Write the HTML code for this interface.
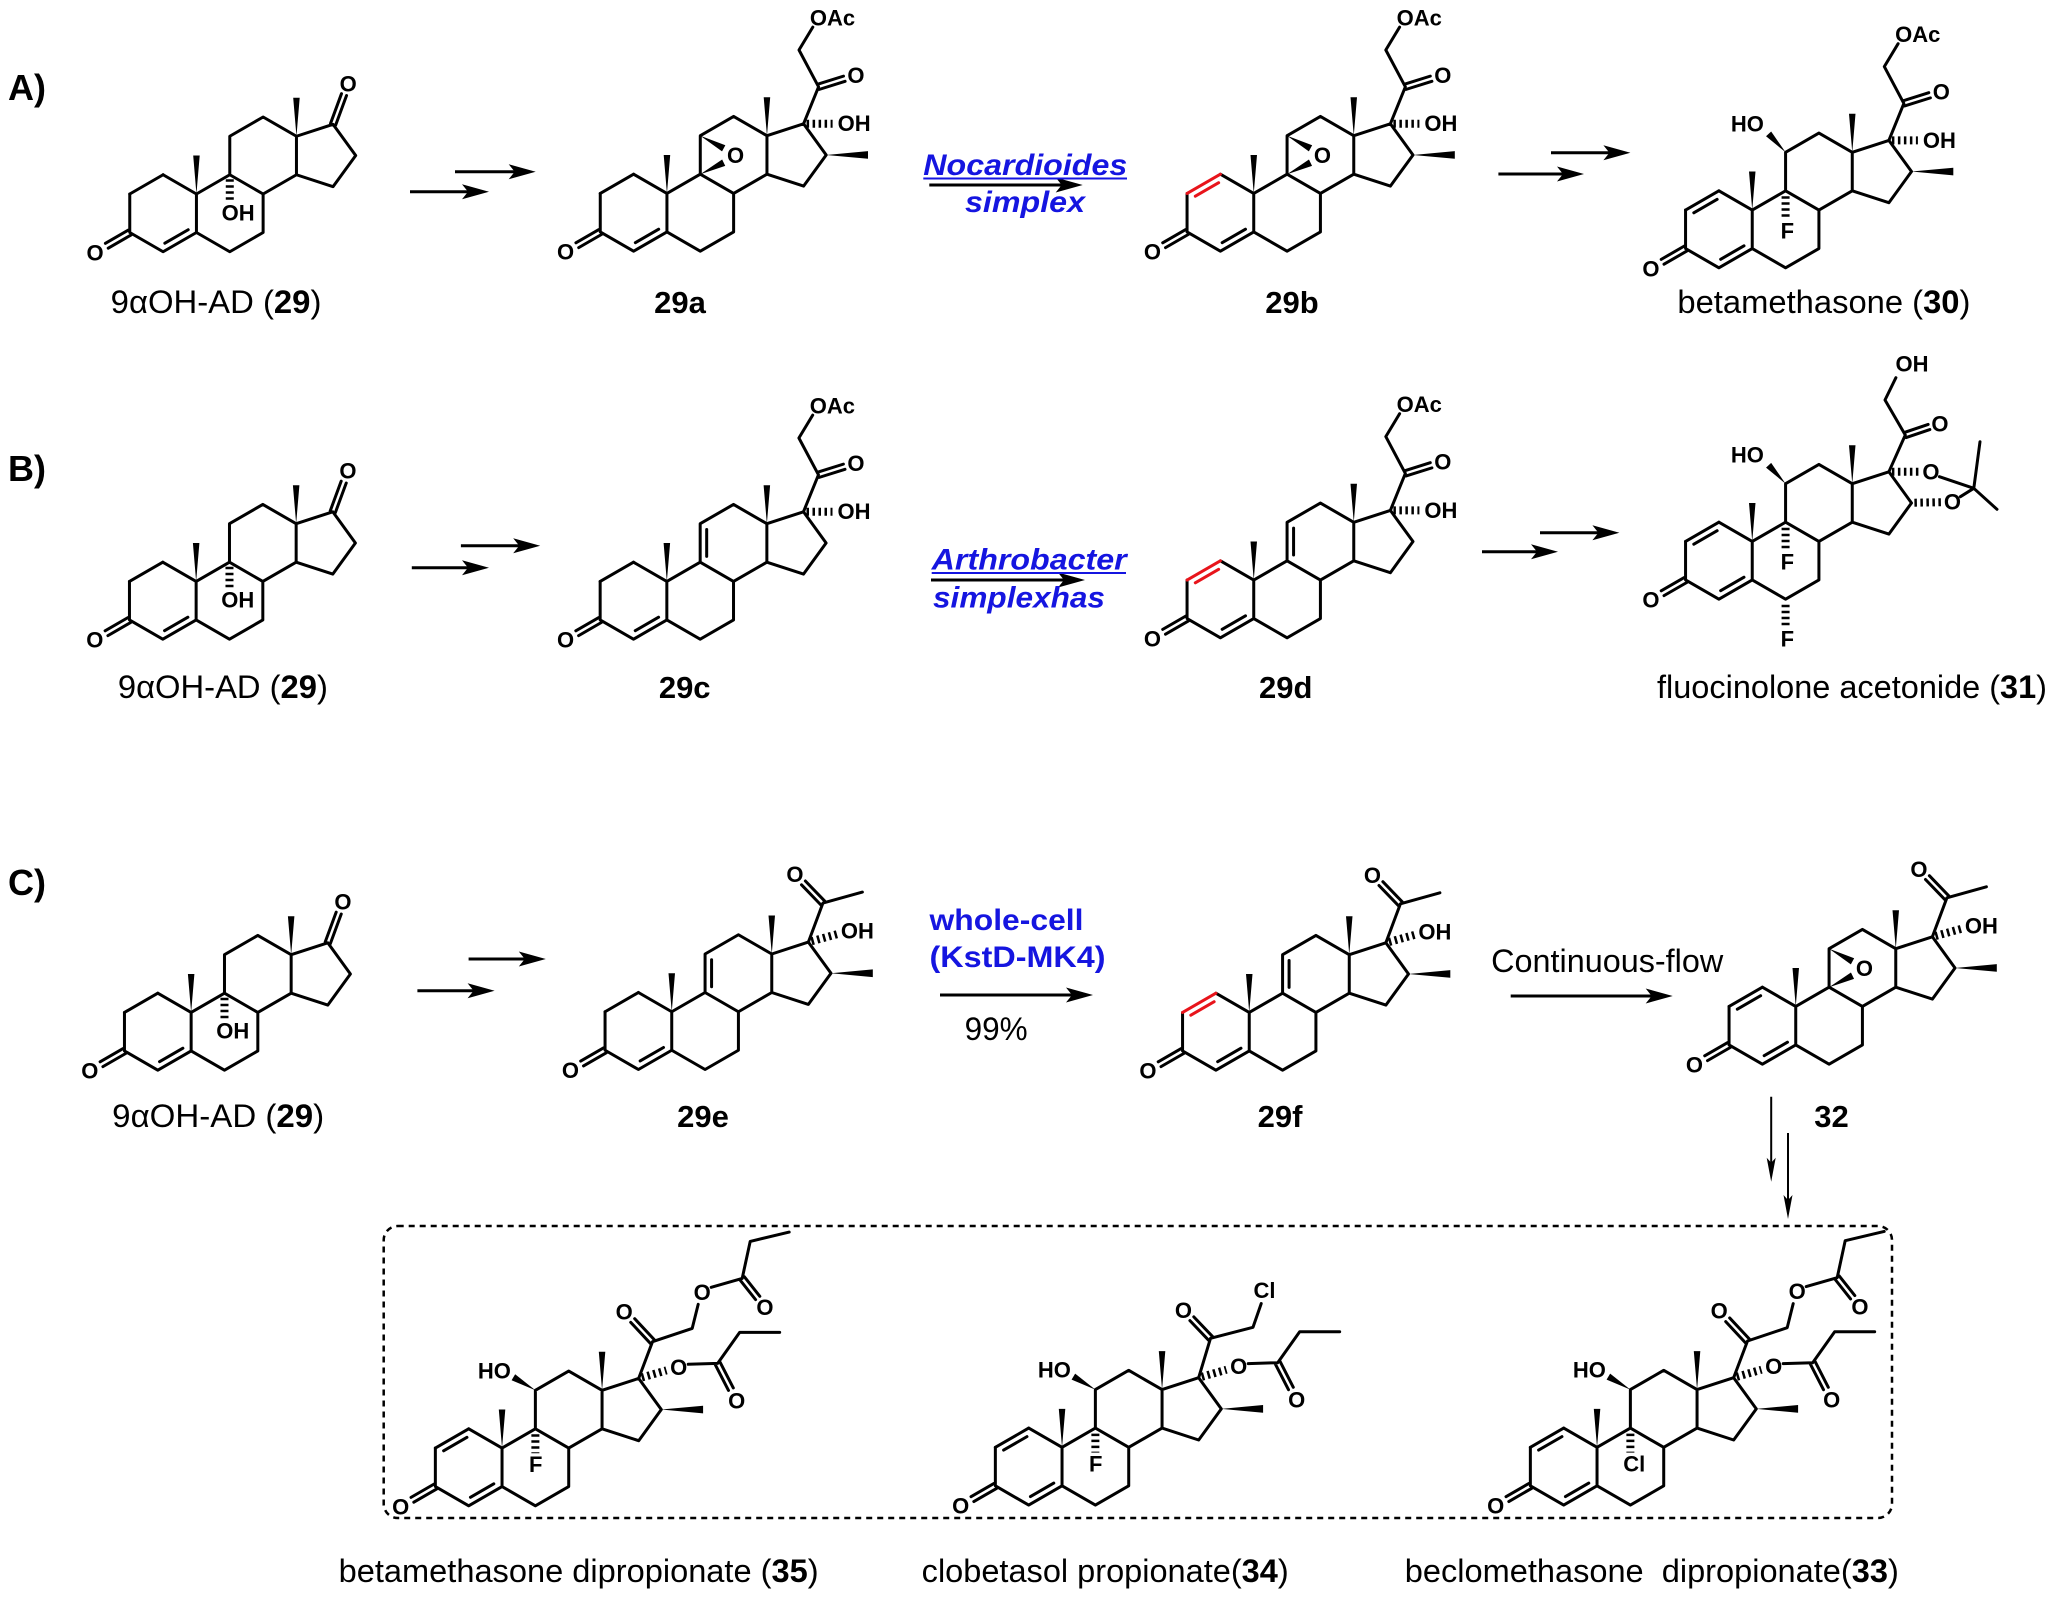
<!DOCTYPE html>
<html><head><meta charset="utf-8"><style>
html,body{margin:0;padding:0;background:#fff}
svg{display:block}
svg text{font-family:"Liberation Sans",Arial,sans-serif;fill:#000}
.a{font-weight:bold;font-size:22px;text-anchor:middle}
.c{font-weight:bold;font-size:31px;text-anchor:middle}
.n{font-size:32px}
.s{font-weight:bold;font-size:36px}
.bl{fill:#1515e0 !important;font-weight:bold;font-size:30px}
</style></head><body>
<svg width="2058" height="1607" viewBox="0 0 2058 1607" xmlns="http://www.w3.org/2000/svg">
<rect width="2058" height="1607" fill="#fff"/>
<defs>
<g id="skel" fill="none" stroke="#000" stroke-width="3" stroke-linecap="round" stroke-linejoin="round">
<path d="M-33.34,-19.25 L-33.34,19.25 L0,38.5 L33.34,19.25 L33.34,-19.25 L0,-38.5 M33.34,19.25 L66.68,38.5 L100.02,19.25 L100.02,-19.25 L66.68,-38.5 L33.34,-19.25 M66.68,-38.5 L66.68,-77 L100.02,-96.25 L133.36,-77 L133.36,-38.5 L100.02,-19.25 M133.36,-77 L169.97,-88.9 L192.61,-57.75 L169.97,-26.6 L133.36,-38.5 M1.75,29.97 L25.09,16.51 M-31.94,21.67 L-54.89,34.92 M-34.74,16.83 L-57.69,30.08"/>
<path d="M33.34,-19.25 L30.1,-57.75 L36.6,-57.75 Z M133.36,-77 L130.1,-115.5 L136.6,-115.5 Z" fill="#000" stroke="none"/>
</g>
<path id="c12" d="M0,-38.5 L-33.34,-19.25" fill="none" stroke="#000" stroke-width="3" stroke-linecap="round"/>
<path id="c12d" d="M0,-38.5 L-33.34,-19.25 M-1.75,-29.97 L-25.09,-16.51" fill="none" stroke="#000" stroke-width="3" stroke-linecap="round"/>
<path id="c12r" d="M0,-38.5 L-33.34,-19.25 M-1.75,-29.97 L-25.09,-16.51" fill="none" stroke="#e8141b" stroke-width="3" stroke-linecap="round"/>
<path id="d911" d="M73.18,-44.3 L73.18,-71.2" fill="none" stroke="#000" stroke-width="3" stroke-linecap="round"/>
<path id="me16" d="M192.61,-57.75 L234.4,-61.6 L234.4,-53.9 Z" fill="#000"/>
<path id="epox" d="M66.68,-77 L88.44,-61.32 L91.76,-67.48 Z M66.68,-38.5 L91.64,-46.86 L88.56,-53.14 Z" fill="#000"/>
<path id="k17" d="M172.5,-87.97 L183.45,-117.71 M167.44,-89.83 L178.39,-119.57" fill="none" stroke="#000" stroke-width="3" stroke-linecap="round"/>
<line id="oh9" x1="66.68" y1="-34" x2="66.68" y2="-13" stroke="#000" stroke-width="8" stroke-dasharray="2.5 3.5"/>
<line id="f9t" x1="66.68" y1="-33" x2="66.68" y2="-10" stroke="#000" stroke-width="8" stroke-dasharray="2.5 3.5"/>
<line id="f9b" x1="66.68" y1="-33" x2="66.68" y2="-14" stroke="#000" stroke-width="8" stroke-dasharray="2.5 3.5"/>
<line id="f6" x1="66.68" y1="44" x2="66.68" y2="66" stroke="#000" stroke-width="8" stroke-dasharray="2.5 3.5"/>
<path id="oh11t" d="M66.68,-77 L52.27,-97.77 L47.13,-93.03 Z" fill="#000"/>
<path id="oh11b" d="M66.68,-77 L46.46,-93.01 L42.9,-86.99 Z" fill="#000"/>
<g id="cort" fill="none" stroke="#000" stroke-width="3" stroke-linecap="round" stroke-linejoin="round">
<path d="M169.97,-88.9 L184.97,-125.9 L165.4,-162.7 L179.2,-185.6 M185.78,-123.32 L211.51,-131.42 M184.16,-128.48 L209.89,-136.58"/>
<line x1="173" y1="-88.9" x2="199" y2="-88.9" stroke-width="8" stroke-dasharray="2.5 3.5" stroke-linecap="butt"/>
</g>
<g id="acet" fill="none" stroke="#000" stroke-width="3" stroke-linecap="round" stroke-linejoin="round">
<path d="M169.97,-88.9 L184.5,-127.9 L224,-138.9 M186.44,-129.78 L166.98,-149.98 M182.56,-126.02 L163.1,-146.22"/>
<line x1="173" y1="-89.7" x2="199" y2="-96.9" stroke-width="8" stroke-dasharray="2.5 3.5" stroke-linecap="butt"/>
</g>
<g id="est17" fill="none" stroke="#000" stroke-width="3" stroke-linecap="round" stroke-linejoin="round">
<line x1="173" y1="-89.8" x2="197.8" y2="-96.9" stroke-width="8" stroke-dasharray="2.5 3.5" stroke-linecap="butt"/>
<path d="M219.5,-103 L248.97,-103.9 L270.97,-134.9 L310.97,-134.9 M251.37,-105.13 L264.6,-79.33 M246.57,-102.67 L259.8,-76.87"/>
</g>
<path id="est21" d="M169.97,-88.9 L183.8,-125.6 L223.5,-138.9 L229.5,-163 M185.77,-127.44 L165.97,-148.64 M181.83,-123.76 L162.03,-144.96 M242.5,-180 L273.5,-188.9 L281.5,-225.9 L320.5,-235.2 M275.61,-190.58 L291.11,-171.03 M271.39,-187.22 L286.89,-167.67" fill="none" stroke="#000" stroke-width="3" stroke-linecap="round" stroke-linejoin="round"/>
<path id="ch34" d="M169.97,-88.9 L181.8,-128.3 L224.3,-139.3 L232.5,-163 M183.75,-130.16 L165.12,-149.71 M179.85,-126.44 L161.22,-145.99" fill="none" stroke="#000" stroke-width="3" stroke-linecap="round" stroke-linejoin="round"/>
<g id="aceto" fill="none" stroke="#000" stroke-width="3" stroke-linecap="round" stroke-linejoin="round">
<path d="M169.97,-88.9 L186.4,-125.7 L166.1,-160.7 L177,-183 M187.26,-123.14 L210.96,-131.14 M185.54,-128.26 L209.24,-136.26 M220.5,-84 L254.9,-72.4 L261.1,-119 M254.9,-72.4 L278.1,-51.4 M241.5,-64 L254.9,-72.4"/>
<line x1="173" y1="-88.9" x2="201" y2="-88.9" stroke-width="8" stroke-dasharray="2.5 3.5" stroke-linecap="butt"/>
<line x1="195.5" y1="-58" x2="222" y2="-58.5" stroke-width="8" stroke-dasharray="2.5 3.5" stroke-linecap="butt"/>
</g>
</defs>

<!-- section labels -->
<text class="s" x="8" y="100">A)</text>
<text class="s" x="8" y="481">B)</text>
<text class="s" x="8" y="895">C)</text>

<!-- arrows -->
<path d="M455,171.7 H516 M410,191.7 H470 M929.3,185 H1063 M1551,152.7 H1611 M1498.4,174 H1565 M460.9,545.7 H521 M411.8,567.7 H470 M931,580 H1065 M1540,532.7 H1600 M1482,551.7 H1539 M468.6,959 H527 M417.4,990.7 H476 M940,995 H1074 M1510.7,996 H1654" stroke="#000" stroke-width="3" fill="none"/>
<path d="M535.7,171.7 l-27,-7.5 l6,7.5 l-6,7.5 z M489,191.7 l-27,-7.5 l6,7.5 l-6,7.5 z M1082.7,185 l-27,-7.5 l6,7.5 l-6,7.5 z M1630.4,152.7 l-27,-7.5 l6,7.5 l-6,7.5 z M1584,174 l-27,-7.5 l6,7.5 l-6,7.5 z M540.2,545.7 l-27,-7.5 l6,7.5 l-6,7.5 z M489,567.7 l-27,-7.5 l6,7.5 l-6,7.5 z M1085,580 l-27,-7.5 l6,7.5 l-6,7.5 z M1619.4,532.7 l-27,-7.5 l6,7.5 l-6,7.5 z M1558,551.7 l-27,-7.5 l6,7.5 l-6,7.5 z M545.8,959 l-27,-7.5 l6,7.5 l-6,7.5 z M494.6,990.7 l-27,-7.5 l6,7.5 l-6,7.5 z M1093,995 l-27,-7.5 l6,7.5 l-6,7.5 z M1672.7,996 l-27,-7.5 l6,7.5 l-6,7.5 z" fill="#000"/>
<path d="M1771.2,1096.7 V1163 M1788,1133 V1200" stroke="#000" stroke-width="2" fill="none"/>
<path d="M1771.2,1181.7 l-4.5,-24 l4.5,5 l4.5,-5 z M1788,1219 l-4.5,-24 l4.5,5 l4.5,-5 z" fill="#000"/>

<!-- reagent texts -->
<text class="bl" x="923.3" y="175" font-style="italic" textLength="204" lengthAdjust="spacingAndGlyphs">Nocardioides</text>
<line x1="923.3" y1="178.5" x2="1127" y2="178.5" stroke="#1515e0" stroke-width="2"/>
<text class="bl" x="965" y="212" font-style="italic" textLength="120" lengthAdjust="spacingAndGlyphs">simplex</text>
<text class="bl" x="931.7" y="569.3" font-style="italic" textLength="195" lengthAdjust="spacingAndGlyphs">Arthrobacter</text>
<line x1="931.7" y1="573" x2="1126" y2="573" stroke="#1515e0" stroke-width="2"/>
<text class="bl" x="933" y="607.3" font-style="italic" textLength="172" lengthAdjust="spacingAndGlyphs">simplexhas</text>
<text class="bl" x="929.5" y="930" textLength="154" lengthAdjust="spacingAndGlyphs">whole-cell</text>
<text class="bl" x="929.5" y="967" textLength="176" lengthAdjust="spacingAndGlyphs">(KstD-MK4)</text>
<text class="n" x="964.6" y="1040" textLength="63" lengthAdjust="spacingAndGlyphs">99%</text>
<text class="n" x="1491.2" y="972" textLength="232" lengthAdjust="spacingAndGlyphs">Continuous-flow</text>

<!-- compound labels -->
<text class="n" x="110.7" y="313" textLength="210.7" lengthAdjust="spacingAndGlyphs">9αOH-AD (<tspan font-weight="bold">29</tspan>)</text>
<text class="n" x="117.9" y="698" textLength="210" lengthAdjust="spacingAndGlyphs">9αOH-AD (<tspan font-weight="bold">29</tspan>)</text>
<text class="n" x="112.2" y="1127" textLength="212" lengthAdjust="spacingAndGlyphs">9αOH-AD (<tspan font-weight="bold">29</tspan>)</text>
<text class="c" x="680" y="313">29a</text>
<text class="c" x="1292" y="313">29b</text>
<text class="n" x="1677.4" y="313" textLength="293" lengthAdjust="spacingAndGlyphs">betamethasone (<tspan font-weight="bold">30</tspan>)</text>
<text class="c" x="684.7" y="698">29c</text>
<text class="c" x="1285.7" y="698">29d</text>
<text class="n" x="1657" y="698" textLength="390" lengthAdjust="spacingAndGlyphs">fluocinolone acetonide (<tspan font-weight="bold">31</tspan>)</text>
<text class="c" x="703" y="1127">29e</text>
<text class="c" x="1280" y="1127">29f</text>
<text class="c" x="1831.5" y="1127">32</text>
<text class="n" x="338.6" y="1582" textLength="480" lengthAdjust="spacingAndGlyphs">betamethasone dipropionate (<tspan font-weight="bold">35</tspan>)</text>
<text class="n" x="921.7" y="1582" textLength="367" lengthAdjust="spacingAndGlyphs">clobetasol propionate(<tspan font-weight="bold">34</tspan>)</text>
<text class="n" x="1404.8" y="1582" textLength="494" lengthAdjust="spacingAndGlyphs">beclomethasone&#160; dipropionate(<tspan font-weight="bold">33</tspan>)</text>

<!-- dashed box -->
<rect x="383.7" y="1226" width="1508.3" height="292" rx="14" fill="none" stroke="#000" stroke-width="2.5" stroke-dasharray="6 5"/>

<!-- 29 (A) -->
<g transform="translate(163.1,213.25)">
<use href="#skel"/><use href="#c12"/><use href="#k17"/><use href="#oh9"/>
<text class="a" x="-68" y="47">O</text><text class="a" x="185.1" y="-122">O</text><text class="a" x="75" y="7">OH</text>
</g>
<!-- 29 (B) -->
<g transform="translate(162.8,600.7)">
<use href="#skel"/><use href="#c12"/><use href="#k17"/><use href="#oh9"/>
<text class="a" x="-68" y="47">O</text><text class="a" x="185.1" y="-122">O</text><text class="a" x="75" y="7">OH</text>
</g>
<!-- 29 (C) -->
<g transform="translate(157.8,1031.7)">
<use href="#skel"/><use href="#c12"/><use href="#k17"/><use href="#oh9"/>
<text class="a" x="-68" y="47">O</text><text class="a" x="185.1" y="-122">O</text><text class="a" x="75" y="7">OH</text>
</g>

<!-- 29a -->
<g transform="translate(633.6,212.7)">
<use href="#skel"/><use href="#c12"/><use href="#epox"/><use href="#me16"/><use href="#cort"/>
<text class="a" x="-68" y="47">O</text><text class="a" x="102" y="-49.5">O</text>
<text class="a" x="222.4" y="-129.7">O</text><text class="a" x="198.9" y="-187.2">OAc</text><text class="a" x="220.5" y="-81.5">OH</text>
</g>
<!-- 29b -->
<g transform="translate(1220.4,212.7)">
<use href="#skel"/><use href="#c12r"/><use href="#epox"/><use href="#me16"/><use href="#cort"/>
<text class="a" x="-68" y="47">O</text><text class="a" x="102" y="-49.5">O</text>
<text class="a" x="222.4" y="-129.7">O</text><text class="a" x="198.9" y="-187.2">OAc</text><text class="a" x="220.5" y="-81.5">OH</text>
</g>
<!-- 30 -->
<g transform="translate(1718.9,229.3)">
<use href="#skel"/><use href="#c12d"/><use href="#me16"/><use href="#cort"/><use href="#oh11t"/><use href="#f9t"/>
<text class="a" x="-68" y="47">O</text>
<text class="a" x="222.4" y="-129.7">O</text><text class="a" x="198.9" y="-187.2">OAc</text><text class="a" x="220.5" y="-81.5">OH</text>
<text class="a" x="28.5" y="-98">HO</text><text class="a" x="68.5" y="9">F</text>
</g>

<!-- 29c -->
<g transform="translate(633.5,600.7)">
<use href="#skel"/><use href="#c12"/><use href="#d911"/><use href="#cort"/>
<text class="a" x="-68" y="47">O</text>
<text class="a" x="222.4" y="-129.7">O</text><text class="a" x="198.9" y="-187.2">OAc</text><text class="a" x="220.5" y="-81.5">OH</text>
</g>
<!-- 29d -->
<g transform="translate(1220.4,599.3)">
<use href="#skel"/><use href="#c12r"/><use href="#d911"/><use href="#cort"/>
<text class="a" x="-68" y="47">O</text>
<text class="a" x="222.4" y="-129.7">O</text><text class="a" x="198.9" y="-187.2">OAc</text><text class="a" x="220.5" y="-81.5">OH</text>
</g>
<!-- 31 -->
<g transform="translate(1718.9,560.7)">
<use href="#skel"/><use href="#c12d"/><use href="#aceto"/><use href="#oh11t"/><use href="#f9t"/><use href="#f6"/>
<text class="a" x="-68" y="47">O</text>
<text class="a" x="221.1" y="-129.4">O</text><text class="a" x="193.1" y="-189">OH</text>
<text class="a" x="212.1" y="-81">O</text><text class="a" x="233.5" y="-51">O</text>
<text class="a" x="28.5" y="-98">HO</text><text class="a" x="68.5" y="9">F</text><text class="a" x="68.5" y="85.6">F</text>
</g>

<!-- 29e -->
<g transform="translate(638.4,1031)">
<use href="#skel"/><use href="#c12"/><use href="#d911"/><use href="#me16"/><use href="#acet"/>
<text class="a" x="-68" y="47">O</text>
<text class="a" x="156.5" y="-148.9">O</text><text class="a" x="219" y="-92.4">OH</text>
</g>
<!-- 29f -->
<g transform="translate(1215.9,1031.7)">
<use href="#skel"/><use href="#c12r"/><use href="#d911"/><use href="#me16"/><use href="#acet"/>
<text class="a" x="-68" y="47">O</text>
<text class="a" x="156.5" y="-148.9">O</text><text class="a" x="219" y="-92.4">OH</text>
</g>
<!-- 32 -->
<g transform="translate(1762.4,1025.7)">
<use href="#skel"/><use href="#c12d"/><use href="#epox"/><use href="#me16"/><use href="#acet"/>
<text class="a" x="-68" y="47">O</text><text class="a" x="102" y="-49.5">O</text>
<text class="a" x="156.5" y="-148.9">O</text><text class="a" x="219" y="-92.4">OH</text>
</g>

<!-- 35 -->
<g transform="translate(468.7,1467.3)">
<use href="#skel"/><use href="#c12d"/><use href="#me16"/><use href="#oh11b"/><use href="#f9b"/><use href="#est17"/><use href="#est21"/>
<text class="a" x="-68" y="47">O</text>
<text class="a" x="25.7" y="-89">HO</text><text class="a" x="67" y="4.7">F</text>
<text class="a" x="209.97" y="-92.4">O</text><text class="a" x="267.97" y="-58.9">O</text>
<text class="a" x="155.5" y="-147.9">O</text><text class="a" x="233.5" y="-167.4">O</text><text class="a" x="296.3" y="-152.2">O</text>
</g>
<!-- 34 -->
<g transform="translate(1028.7,1466.6)">
<use href="#skel"/><use href="#c12d"/><use href="#me16"/><use href="#oh11b"/><use href="#f9b"/><use href="#est17"/><use href="#ch34"/>
<text class="a" x="-68" y="47">O</text>
<text class="a" x="25.7" y="-89">HO</text><text class="a" x="67" y="4.7">F</text>
<text class="a" x="209.97" y="-92.4">O</text><text class="a" x="267.97" y="-58.9">O</text>
<text class="a" x="154.8" y="-148.6">O</text><text class="a" x="235.8" y="-168.6">Cl</text>
</g>
<!-- 33 -->
<g transform="translate(1563.7,1466.6)">
<use href="#skel"/><use href="#c12d"/><use href="#me16"/><use href="#oh11b"/><use href="#f9b"/><use href="#est17"/><use href="#est21"/>
<text class="a" x="-68" y="47">O</text>
<text class="a" x="25.7" y="-89">HO</text><text class="a" x="70.5" y="4.7">Cl</text>
<text class="a" x="209.97" y="-92.4">O</text><text class="a" x="267.97" y="-58.9">O</text>
<text class="a" x="155.5" y="-147.9">O</text><text class="a" x="233.5" y="-167.4">O</text><text class="a" x="296.3" y="-152.2">O</text>
</g>
</svg>
</body></html>
